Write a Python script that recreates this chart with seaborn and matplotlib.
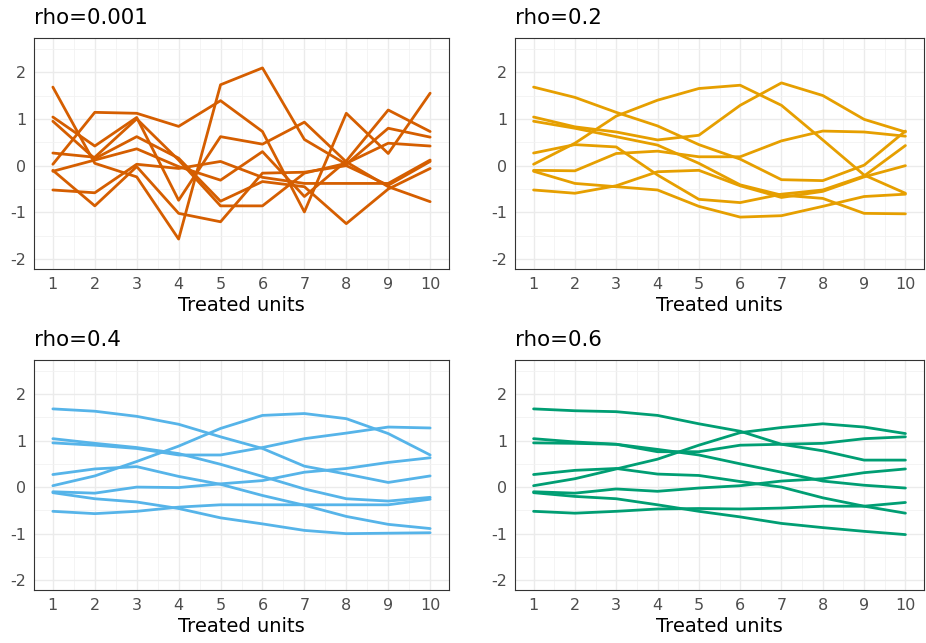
import numpy as np
import pandas as pd
import matplotlib
matplotlib.use("Agg")
import matplotlib.pyplot as plt
from matplotlib.ticker import MultipleLocator
import seaborn as sns

sns.set_theme(style="white")
plt.rcParams["font.family"] = ["DejaVu Sans"]
plt.rcParams["axes.unicode_minus"] = False

units = list(range(1, 11))

# rho = 0.001
rho_001 = [
    [1.68, 0.05, -0.24, -1.57, 1.73, 2.09, 0.56, 0.03, 0.80, 0.61],
    [1.04, 0.42, 1.03, -0.74, 0.62, 0.46, 0.93, 0.08, -0.45, -0.77],
    [0.95, 0.15, 0.62, 0.16, -0.76, -0.34, -0.45, -1.24, -0.50, -0.06],
    [0.27, 0.18, 1.00, 0.12, -0.86, -0.86, -0.16, 0.05, 0.48, 0.42],
    [0.03, 1.14, 1.12, 0.84, 1.39, 0.73, -0.99, 1.12, 0.26, 1.55],
    [-0.10, -0.86, -0.02, -1.02, -1.20, -0.16, -0.14, 0.00, -0.42, 0.09],
    [-0.12, 0.12, 0.36, -0.02, -0.31, 0.30, -0.66, 0.10, 1.19, 0.73],
    [-0.52, -0.58, 0.03, -0.06, 0.09, -0.25, -0.38, -0.38, -0.38, 0.12],
]

# rho = 0.2
rho_02 = [
    [1.68, 1.46, 1.14, 0.85, 0.45, 0.14, -0.30, -0.32, 0.01, 0.74],
    [0.03, 0.48, 1.06, 1.40, 1.65, 1.72, 1.29, 0.55, -0.20, -0.59],
    [1.04, 0.83, 0.72, 0.55, 0.65, 1.29, 1.77, 1.50, 0.99, 0.72],
    [0.95, 0.80, 0.62, 0.44, 0.05, -0.41, -0.63, -0.70, -1.02, -1.03],
    [0.27, 0.45, 0.40, -0.20, -0.72, -0.79, -0.61, -0.52, -0.22, 0.43],
    [-0.10, -0.11, 0.26, 0.31, 0.19, 0.19, 0.53, 0.74, 0.72, 0.63],
    [-0.12, -0.38, -0.45, -0.52, -0.87, -1.10, -1.07, -0.87, -0.66, -0.61],
    [-0.52, -0.59, -0.43, -0.13, -0.10, -0.43, -0.68, -0.55, -0.24, 0.00],
]

# rho = 0.4
rho_04 = [
    [1.68, 1.63, 1.52, 1.35, 1.08, 0.83, 0.45, 0.28, 0.10, 0.24],
    [0.03, 0.24, 0.55, 0.88, 1.26, 1.54, 1.58, 1.47, 1.15, 0.69],
    [1.04, 0.94, 0.85, 0.72, 0.49, 0.23, -0.04, -0.25, -0.30, -0.22],
    [0.95, 0.90, 0.83, 0.69, 0.69, 0.85, 1.04, 1.16, 1.29, 1.27],
    [0.27, 0.39, 0.44, 0.23, 0.06, -0.18, -0.39, -0.63, -0.80, -0.89],
    [-0.10, -0.13, 0.00, -0.01, 0.07, 0.14, 0.32, 0.40, 0.53, 0.63],
    [-0.12, -0.25, -0.32, -0.46, -0.66, -0.79, -0.93, -1.00, -0.99, -0.98],
    [-0.52, -0.57, -0.52, -0.43, -0.38, -0.38, -0.38, -0.38, -0.38, -0.26],
]

# rho = 0.6
rho_06 = [
    [1.68, 1.64, 1.62, 1.54, 1.36, 1.20, 0.92, 0.78, 0.58, 0.58],
    [0.03, 0.18, 0.39, 0.60, 0.90, 1.17, 1.28, 1.36, 1.29, 1.15],
    [1.04, 0.97, 0.92, 0.81, 0.69, 0.50, 0.32, 0.13, 0.04, -0.02],
    [0.95, 0.94, 0.92, 0.76, 0.76, 0.90, 0.92, 0.94, 1.04, 1.08],
    [0.27, 0.36, 0.40, 0.28, 0.25, 0.12, 0.00, -0.23, -0.41, -0.56],
    [-0.10, -0.13, -0.04, -0.09, -0.02, 0.03, 0.13, 0.18, 0.31, 0.39],
    [-0.12, -0.20, -0.25, -0.38, -0.52, -0.64, -0.78, -0.87, -0.95, -1.02],
    [-0.52, -0.56, -0.52, -0.47, -0.46, -0.47, -0.45, -0.41, -0.41, -0.33],
]

titles = ["rho=0.001", "rho=0.2", "rho=0.4", "rho=0.6"]
series = [rho_001, rho_02, rho_04, rho_06]
colors = ["#D55E00", "#E69F00", "#56B4E9", "#009E73"]
y_ticks = [-2, -1, 0, 1, 2]


def to_long(rows):
    recs = []
    for i, row in enumerate(rows):
        for u, v in zip(units, row):
            recs.append({"series": i, "unit": u, "value": v})
    return pd.DataFrame(recs)


W, H = 926, 643
fig = plt.figure(figsize=(W / 100, H / 100), dpi=100)
fig.patch.set_facecolor("white")

# panel boxes in pixels: (left, top, right, bottom)
boxes = [(34, 38, 449, 269), (515, 38, 924, 269),
         (34, 360, 449, 590), (515, 360, 924, 590)]
title_y = [18, 18, 340, 340]

for k in range(4):
    l, t, r, b = boxes[k]
    ax = fig.add_axes([l / W, 1 - b / H, (r - l) / W, (b - t) / H])
    df = to_long(series[k])
    sns.lineplot(data=df, x="unit", y="value", units="series",
                 estimator=None, color=colors[k], lw=2.0, ax=ax,
                 legend=False)
    ax.set_xlim(0.55, 10.45)
    ax.set_ylim(-2.21, 2.73)
    ax.set_xticks(units)
    ax.set_yticks(y_ticks)
    ax.xaxis.set_minor_locator(MultipleLocator(0.5))
    ax.yaxis.set_minor_locator(MultipleLocator(0.5))
    ax.grid(which="major", color="#EBEBEB", lw=1.0)
    ax.grid(which="minor", color="#F2F2F2", lw=0.6)
    ax.set_axisbelow(True)
    for s in ax.spines.values():
        s.set_color("#333333")
        s.set_linewidth(0.8)
    ax.tick_params(which="major", length=3.5, width=0.8, color="#333333",
                   labelsize=11.5, labelcolor="#4D4D4D", pad=2)
    ax.tick_params(which="minor", length=0)
    ax.set_xlabel("Treated units", fontsize=14, color="black", labelpad=3)
    ax.set_ylabel("")
    fig.text(l / W, 1 - title_y[k] / H, titles[k], fontsize=15.4,
             color="black", ha="left", va="center")

fig.savefig("out.png", dpi=100, facecolor="white")
